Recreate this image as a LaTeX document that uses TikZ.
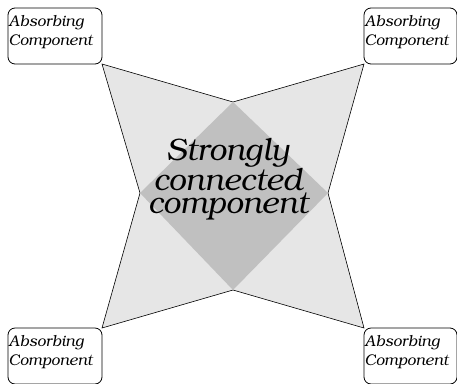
\documentclass[tikz,border=0pt]{standalone}
\usepackage[T1]{fontenc}
\usepackage{bookman}
\definecolor{lightfill}{HTML}{E6E6E6}
\definecolor{darkfill}{HTML}{C0C0C0}
\begin{document}
\begin{tikzpicture}[x=1pt,y=-1pt,
  absbox/.style={rounded corners=7pt,line width=0.8pt},
  boxtext/.style={font=\fontsize{15.5}{19}\selectfont\itshape,align=left,anchor=north west,inner sep=0pt}]
\useasboundingbox (0,0) rectangle (457,383);
\clip (0,0) rectangle (457,383);
\coordinate (tl) at (102,64);
\coordinate (tr) at (364,64);
\coordinate (bl) at (102,328);
\coordinate (br) at (364,328);
\coordinate (it) at (233,102);
\coordinate (ir) at (328,193);
\coordinate (ib) at (233,290);
\coordinate (il) at (140,193);
\fill[lightfill,draw=black,line width=0.6pt] (tl) -- (it) -- (tr) -- (ir) -- (br) -- (ib) -- (bl) -- (il) -- cycle;
\fill[darkfill] (it) -- (ir) -- (ib) -- (il) -- cycle;
\node[font=\fontsize{31}{21}\selectfont\itshape,align=center,inner sep=0pt] (scc) at (228,179) {Strongly\\connected\\component};
\draw[absbox] (8,8) rectangle (102,64);
\draw[absbox] (364,8) rectangle (457,64);
\draw[absbox] (8,328) rectangle (102,384);
\draw[absbox] (364,328) rectangle (457,384);
\node[boxtext] (a1) at (8.5,15) {Absorbing\\Component};
\node[boxtext] (a2) at (364.5,15) {Absorbing\\Component};
\node[boxtext] (a3) at (8.5,335) {Absorbing\\Component};
\node[boxtext] (a4) at (364.5,335) {Absorbing\\Component};
\end{tikzpicture}
\end{document}
